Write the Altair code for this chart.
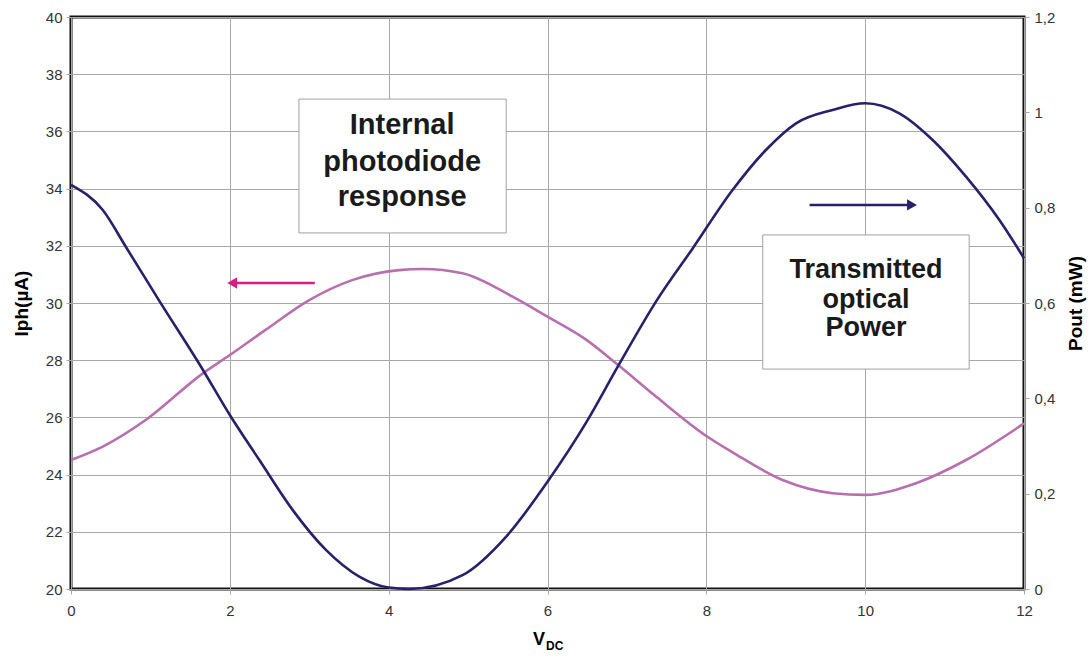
import altair as alt
import pandas as pd

# Transmitted optical power (right axis, mW)
pout_x = [0, 0.40, 0.69, 1.11, 1.66, 2.0, 2.37, 2.79, 3.21, 3.63, 4.0, 4.26, 4.93, 5.48, 6.0, 6.49,
          6.89, 7.37, 7.83, 8.33, 8.75, 9.13, 9.59, 10.0, 10.43, 10.85, 11.27, 11.69, 12.0]
pout_y = [0.848, 0.795, 0.718, 0.605, 0.46, 0.365, 0.271, 0.166, 0.082, 0.026, 0.003, 0.0, 0.029,
          0.11, 0.225, 0.35, 0.468, 0.604, 0.715, 0.837, 0.921, 0.977, 1.005, 1.019, 0.998, 0.942,
          0.865, 0.774, 0.694]

# Internal photodiode response (left axis, uA)
iph_x = [0, 0.40, 0.94, 1.66, 2.0, 2.45, 3.0, 3.54, 4.13, 4.43, 4.93, 5.56, 6.0, 6.49, 6.89, 7.37,
         8.0, 8.33, 8.96, 9.59, 10.0, 10.64, 11.27, 12.0]
iph_y = [24.51, 24.98, 25.91, 27.54, 28.18, 29.06, 30.1, 30.8, 31.15, 31.19, 31.04, 30.22, 29.52,
         28.71, 27.83, 26.72, 25.35, 24.78, 23.81, 23.35, 23.29, 23.70, 24.51, 25.79]

x_ticks = [0, 2, 4, 6, 8, 10, 12]
left_ticks = [20, 22, 24, 26, 28, 30, 32, 34, 36, 38, 40]
right_ticks = [0, 0.2, 0.4, 0.6, 0.8, 1.0, 1.2]

PINK_LINE = "#b86fae"
BLUE_LINE = "#27216b"
PINK_ARROW = "#d61f7d"
FONT = "Liberation Sans"

# annotation boxes and labels (data coordinates: x in V, y on left Iph scale)
box_df = pd.DataFrame({"x": [2.87, 8.71], "x2": [5.48, 11.31], "y": [37.13, 32.38], "y2": [32.45, 27.69]})
label1_df = pd.DataFrame({"x": [4.17, 4.17, 4.17], "y": [36.22, 34.93, 33.71],
                          "t": ["Internal", "photodiode", "response"]})
label2_df = pd.DataFrame({"x": [10.01, 10.01, 10.01], "y": [31.15, 30.10, 29.13],
                          "t": ["Transmitted", "optical", "Power"]})
arrow_df = pd.DataFrame({"x": [3.07, 9.30], "x2": [2.05, 10.55], "y": [30.70, 33.43],
                         "c": [PINK_ARROW, BLUE_LINE]})
head_df = pd.DataFrame({"x": [2.03, 10.59], "y": [30.70, 33.43],
                        "shape": ["triangle-left", "triangle-right"], "c": [PINK_ARROW, BLUE_LINE]})

iph_df = pd.DataFrame({"v": iph_x, "iph": iph_y})
pout_df = pd.DataFrame({"v": pout_x, "pout": pout_y})


def xs():
    return alt.Scale(domain=[0, 12], nice=False, zero=False)


def ls():
    return alt.Scale(domain=[20, 40], nice=False, zero=False)


def x_axis():
    return alt.Axis(values=x_ticks, grid=True, gridColor="#a8a8a8", gridWidth=1, title=None,
                    labelFont=FONT, labelFontSize=15, labelColor="#333333", labelPadding=9,
                    labelFlush=False, labelOverlap=False,
                    tickColor="#a8a8a8", tickSize=5, domain=False)


left_axis = alt.Axis(values=left_ticks, grid=True, gridColor="#a8a8a8", gridWidth=1, orient="left",
                     title="Iph(µA)", titleFont=FONT, titleFontSize=19, titleFontWeight="bold",
                     titleColor="#000000", titlePadding=14,
                     labelFont=FONT, labelFontSize=15, labelColor="#333333", labelPadding=4,
                     labelFlush=False, labelOverlap=False,
                     tickColor="#a8a8a8", tickSize=5, domain=False)
right_axis = alt.Axis(values=right_ticks, grid=False, orient="right",
                      labelExpr="replace(format(datum.value, '.1~f'), '.', ',')",
                      title="Pout (mW)", titleFont=FONT, titleFontSize=19, titleFontWeight="bold",
                      titleColor="#000000", titlePadding=12, titleAngle=270, titleBaseline="top",
                      labelFont=FONT, labelFontSize=15, labelColor="#333333", labelPadding=5,
                      labelFlush=False, labelOverlap=False,
                      tickColor="#a8a8a8", tickSize=5, domain=False)

pink = alt.Chart(iph_df).mark_line(color=PINK_LINE, strokeWidth=2.6, interpolate="monotone").encode(
    x=alt.X("v:Q", scale=xs(), axis=x_axis()),
    y=alt.Y("iph:Q", scale=ls(), axis=left_axis),
)

blue = alt.Chart(pout_df).mark_line(color=BLUE_LINE, strokeWidth=2.6, interpolate="monotone").encode(
    x=alt.X("v:Q", scale=xs(), axis=x_axis()),
    y=alt.Y("pout:Q", scale=alt.Scale(domain=[0, 1.2], nice=False, zero=False), axis=right_axis),
)

boxes = alt.Chart(box_df).mark_rect(fill="white", stroke="#a0a0a0", strokeWidth=1).encode(
    x=alt.X("x:Q", scale=xs(), axis=x_axis()), x2="x2",
    y=alt.Y("y:Q", scale=ls(), axis=None), y2="y2",
)
labels1 = alt.Chart(label1_df).mark_text(font=FONT, fontSize=29, fontWeight="bold", color="#1a1a1a",
                                         align="center", baseline="middle").encode(
    x=alt.X("x:Q", scale=xs(), axis=x_axis()),
    y=alt.Y("y:Q", scale=ls(), axis=None),
    text="t:N",
)
labels2 = alt.Chart(label2_df).mark_text(font=FONT, fontSize=27, fontWeight="bold", color="#1a1a1a",
                                         align="center", baseline="middle").encode(
    x=alt.X("x:Q", scale=xs(), axis=x_axis()),
    y=alt.Y("y:Q", scale=ls(), axis=None),
    text="t:N",
)
shafts = alt.Chart(arrow_df).mark_rule(strokeWidth=2.5).encode(
    x=alt.X("x:Q", scale=xs(), axis=x_axis()), x2="x2",
    y=alt.Y("y:Q", scale=ls(), axis=None),
    color=alt.Color("c:N", scale=None),
)
heads = alt.Chart(head_df).mark_point(filled=True, size=130, opacity=1).encode(
    x=alt.X("x:Q", scale=xs(), axis=x_axis()),
    y=alt.Y("y:Q", scale=ls(), axis=None),
    shape=alt.Shape("shape:N", scale=None),
    color=alt.Color("c:N", scale=None),
)

xt_v = alt.Chart(pd.DataFrame({"t": ["V"]})).mark_text(
    font=FONT, fontSize=18, fontWeight="bold", color="#000", align="right", baseline="alphabetic"
).encode(x=alt.value(474), y=alt.value(628), text="t:N")
xt_dc = alt.Chart(pd.DataFrame({"t": ["DC"]})).mark_text(
    font=FONT, fontSize=12, fontWeight="bold", color="#000", align="left", baseline="alphabetic"
).encode(x=alt.value(475), y=alt.value(633), text="t:N")

chart = alt.layer(pink, blue, boxes, shafts, heads, labels1, labels2, xt_v, xt_dc).resolve_scale(
    y="independent"
).properties(
    width=953, height=572,
    autosize=alt.AutoSizeParams(type="none"),
    padding={"left": 71, "top": 17, "right": 67, "bottom": 68},
    background="white",
).configure_view(stroke="#111111", strokeWidth=3)

chart.save("out.html", embed_options={"renderer": "svg", "actions": False})
